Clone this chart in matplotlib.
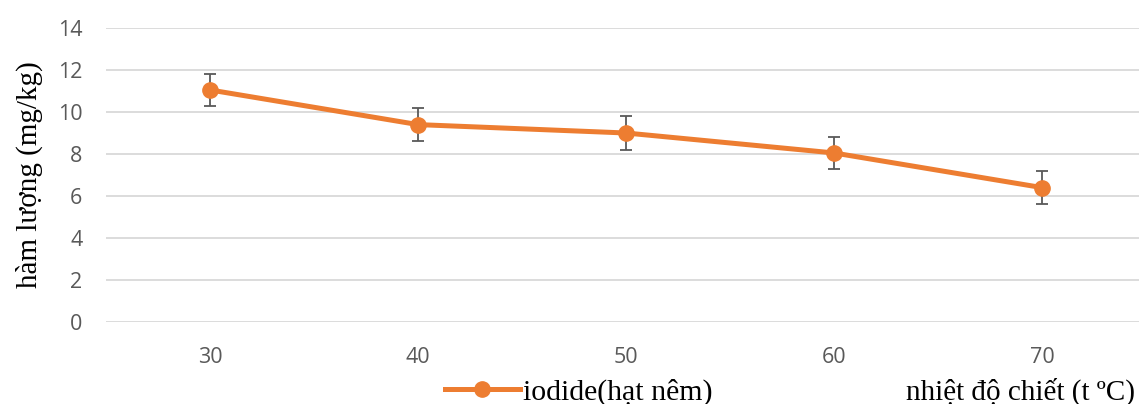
import matplotlib
matplotlib.use('Agg')
import matplotlib.pyplot as plt
from matplotlib.lines import Line2D

# extraction temperature (categories) and iodide content with error bars
temps = ['30', '40', '50', '60', '70']
iodide = [11.05, 9.4, 9.0, 8.05, 6.4]
iodide_err = [0.78, 0.78, 0.8, 0.78, 0.78]
y_ticks = [0, 2, 4, 6, 8, 10, 12, 14]

orange = '#ED7D31'
grey_text = '#595959'
serif = ['Liberation Serif', 'DejaVu Serif']

fig = plt.figure(figsize=(11.39, 4.04), dpi=100)
ax = fig.add_axes([106 / 1139, 1 - 322 / 404, 1040 / 1139, 294 / 404])

x = list(range(len(temps)))
ax.errorbar(x, iodide, yerr=iodide_err, color=orange, linewidth=3.6,
            marker='o', markersize=11, ecolor=grey_text, elinewidth=1.3,
            capsize=4.5, capthick=1.3, zorder=3)

ax.set_xlim(-0.5, len(temps) - 0.5)
ax.set_ylim(0, 14)
ax.set_yticks(y_ticks)
ax.set_xticks(x)
ax.set_xticklabels(temps)
ax.grid(axis='y', color='#d9d9d9', linewidth=1.3)
ax.set_axisbelow(True)
for side in ['top', 'right', 'left', 'bottom']:
    ax.spines[side].set_visible(False)
ax.tick_params(length=0, labelsize=15.5, labelcolor=grey_text)
ax.tick_params(axis='y', pad=17)
ax.tick_params(axis='x', pad=18)
for lbl in ax.get_xticklabels() + ax.get_yticklabels():
    lbl.set_family('Open Sans')

ax.set_ylabel('hàm lượng (mg/kg)', family=serif, fontsize=21)
ax.yaxis.set_label_coords(-0.061, 0.5)

# legend below the axes and the x axis title on the right
handle = Line2D([], [], color=orange, linewidth=3.6, marker='o', markersize=11)
fig.legend([handle], ['iodide(hạt nêm)'], loc='center left',
           bbox_to_anchor=(445 / 1139, 1 - 392 / 404), frameon=False,
           prop={'family': serif, 'size': 21.5}, handlelength=2.5,
           handletextpad=0.1, borderaxespad=0, borderpad=0)
fig.text(1135 / 1139, 1 - 392 / 404, 'nhiệt độ chiết (t ºC)', family=serif,
         fontsize=21, ha='right', va='center')

fig.savefig('out.png', dpi=100)
